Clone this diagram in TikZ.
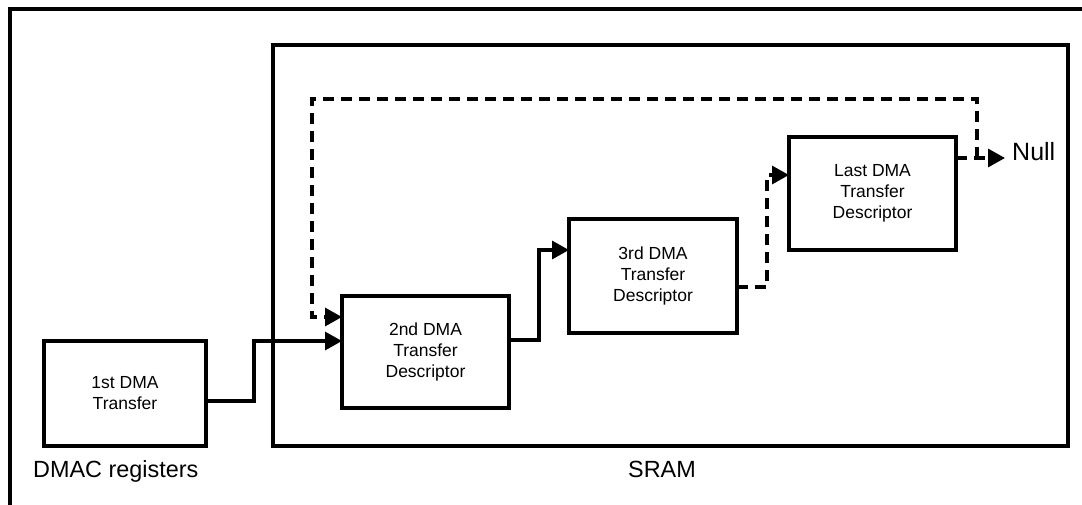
\documentclass[tikz,border=0pt]{standalone}
\usepackage{fontspec}
\setmainfont{Liberation Sans}
\usetikzlibrary{arrows.meta}
\begin{document}
\begin{tikzpicture}[x=1pt,y=-1pt,
  frame/.style={line width=3.2pt},
  descbox/.style={draw,line width=3.2pt,inner sep=0pt,outer sep=0pt,
    align=center,font=\fontsize{17.5}{21}\selectfont},
  label/.style={inner sep=0pt,font=\fontsize{23.4}{28}\selectfont},
  conn/.style={line width=3.2pt,-{Triangle[length=17pt,width=18pt]}},
  dconn/.style={conn,dash pattern=on 11pt off 7pt}]
\useasboundingbox (0,0) rectangle (1082,504);

% outer figure frame (continues past the right and bottom edges)
\draw[frame] (10,520) -- (10,9) -- (1100,9);

% SRAM region
\draw[frame] (273,45) rectangle (1068,446);

% descriptor boxes
\node[descbox,minimum width=162pt,minimum height=105pt] (b1) at (125,393.5) {1st DMA\\Transfer};
\node[descbox,minimum width=167pt,minimum height=112pt] (b2) at (425.5,352) {2nd DMA\\Transfer\\Descriptor};
\node[descbox,minimum width=168pt,minimum height=114pt] (b3) at (653,276) {3rd DMA\\Transfer\\Descriptor};
\node[descbox,minimum width=167pt,minimum height=113pt] (b4) at (872.5,193.5) {Last DMA\\Transfer\\Descriptor};

% labels
\node[label,anchor=base west] (dmac) at (33,477) {DMAC registers};
\node[label,anchor=base] (sram) at (662,477) {SRAM};
\node[label,anchor=base west,font=\fontsize{25}{30}\selectfont] (nul) at (1012,160) {Null};

% solid links
\draw[conn] ([yshift=-7.5pt]b1.east) -- ++(48,0) |- ([yshift=11pt]b2.west);
\draw[conn] ([yshift=12pt]b2.east) -- ++(30,0) |- ([yshift=26pt]b3.west);

% dashed links
\draw[dconn] ([yshift=-11pt]b3.east) -- ++(30,0) |- ([yshift=18.5pt]b4.west);
\coordinate (b4out) at ([yshift=35.5pt]b4.east);
\coordinate (split) at ([xshift=21pt]b4out);
\coordinate (looptop) at (312,99);
\draw[dconn] (b4out) -- ([xshift=-7pt]b4out -| nul.west);
\draw[dconn] (split) |- (looptop) |- ([yshift=35pt]b2.west);
\end{tikzpicture}
\end{document}
